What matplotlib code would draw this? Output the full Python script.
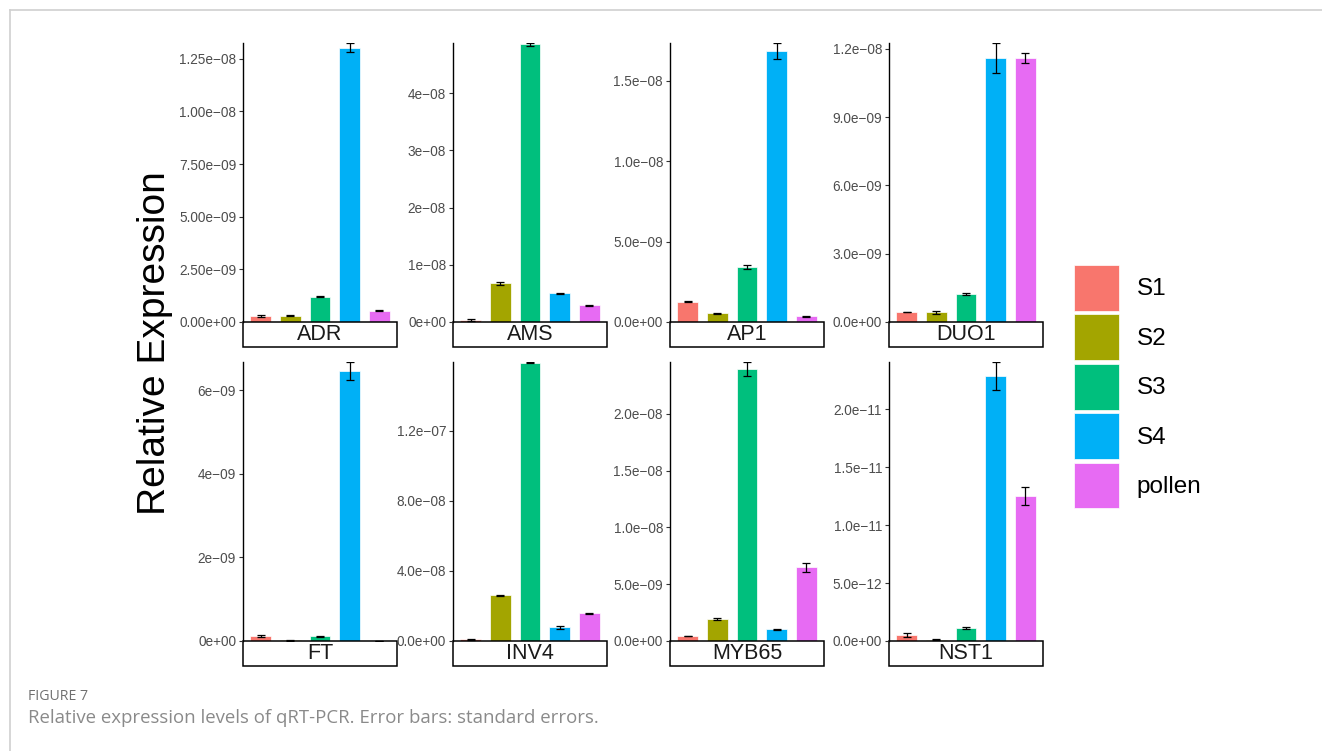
import matplotlib

matplotlib.use("Agg")

import matplotlib.pyplot as plt
from matplotlib.lines import Line2D
from matplotlib.patches import Patch, Rectangle

stages = ["S1", "S2", "S3", "S4", "pollen"]
stage_colors = ["#F8766D", "#A3A500", "#00BF7D", "#00B0F6", "#E76BF3"]
genes = ["ADR", "AMS", "AP1", "DUO1", "FT", "INV4", "MYB65", "NST1"]

adr_mean = [3.0e-10, 3.0e-10, 1.2e-9, 1.303e-8, 5.3e-10]
adr_se = [4e-11, 3.5e-11, 3e-11, 2.2e-10, 3e-11]
ams_mean = [3.5e-10, 6.8e-9, 4.85e-8, 5.0e-9, 2.9e-9]
ams_se = [1e-10, 2.5e-10, 2.5e-10, 1e-10, 1.5e-10]
ap1_mean = [1.27e-9, 5.4e-10, 3.42e-9, 1.685e-8, 3.7e-10]
ap1_se = [4e-11, 3e-11, 1.2e-10, 5e-10, 3e-11]
duo1_mean = [4.4e-10, 4.3e-10, 1.23e-9, 1.16e-8, 1.16e-8]
duo1_se = [2e-11, 6e-11, 4e-11, 6.6e-10, 2e-10]
ft_mean = [1.2e-10, 1.5e-11, 1.1e-10, 6.46e-9, 5e-12]
ft_se = [1.5e-11, 5e-12, 1.5e-11, 2.2e-10, 3e-12]
inv4_mean = [1.0e-9, 2.61e-8, 1.589e-7, 7.8e-9, 1.58e-8]
inv4_se = [2.5e-10, 2.5e-10, 4e-10, 9e-10, 4e-10]
myb65_mean = [4.4e-10, 1.94e-9, 2.394e-8, 1.03e-9, 6.48e-9]
myb65_se = [4e-11, 8e-11, 6.3e-10, 5e-11, 4.1e-10]
nst1_mean = [5.2e-13, 1.2e-13, 1.12e-12, 2.288e-11, 1.251e-11]
nst1_se = [1.7e-13, 3e-14, 5e-14, 1.2e-12, 7.9e-13]

adr_ticks = [0, 2.5e-9, 5e-9, 7.5e-9, 1e-8, 1.25e-8]
adr_labels = ["0.00e+00", "2.50e\u221209", "5.00e\u221209", "7.50e\u221209", "1.00e\u221208", "1.25e\u221208"]
ams_ticks = [0, 1e-8, 2e-8, 3e-8, 4e-8]
ams_labels = ["0e+00", "1e\u221208", "2e\u221208", "3e\u221208", "4e\u221208"]
ap1_ticks = [0, 5e-9, 1e-8, 1.5e-8]
ap1_labels = ["0.0e+00", "5.0e\u221209", "1.0e\u221208", "1.5e\u221208"]
duo1_ticks = [0, 3e-9, 6e-9, 9e-9, 1.2e-8]
duo1_labels = ["0.0e+00", "3.0e\u221209", "6.0e\u221209", "9.0e\u221209", "1.2e\u221208"]
ft_ticks = [0, 2e-9, 4e-9, 6e-9]
ft_labels = ["0e+00", "2e\u221209", "4e\u221209", "6e\u221209"]
inv4_ticks = [0, 4e-8, 8e-8, 1.2e-7]
inv4_labels = ["0.0e+00", "4.0e\u221208", "8.0e\u221208", "1.2e\u221207"]
myb65_ticks = [0, 5e-9, 1e-8, 1.5e-8, 2e-8]
myb65_labels = ["0.0e+00", "5.0e\u221209", "1.0e\u221208", "1.5e\u221208", "2.0e\u221208"]
nst1_ticks = [0, 5e-12, 1e-11, 1.5e-11, 2e-11]
nst1_labels = ["0.0e+00", "5.0e\u221212", "1.0e\u221211", "1.5e\u221211", "2.0e\u221211"]

panel_means = [adr_mean, ams_mean, ap1_mean, duo1_mean, ft_mean, inv4_mean, myb65_mean, nst1_mean]
panel_ses = [adr_se, ams_se, ap1_se, duo1_se, ft_se, inv4_se, myb65_se, nst1_se]
panel_ticks = [adr_ticks, ams_ticks, ap1_ticks, duo1_ticks, ft_ticks, inv4_ticks, myb65_ticks, nst1_ticks]
panel_labels = [adr_labels, ams_labels, ap1_labels, duo1_labels,
                ft_labels, inv4_labels, myb65_labels, nst1_labels]

plt.rcParams["font.family"] = ["Liberation Sans", "DejaVu Sans"]

W, H = 1322, 751
fig = plt.figure(figsize=(W / 100, H / 100), dpi=100)

# pixel layout of the facet grid
col_left = [243, 453, 670, 889]
row_top = [43, 362]
panel_w, panel_h = 154, 279
strip_h = 25

xpos = list(range(len(stages)))
for i, gene in enumerate(genes):
    r, c = divmod(i, 4)
    left = col_left[c] / W
    bottom = 1 - (row_top[r] + panel_h) / H
    ax = fig.add_axes([left, bottom, panel_w / W, panel_h / H])

    means, ses = panel_means[i], panel_ses[i]
    ax.bar(xpos, means, width=0.7, color=stage_colors, edgecolor="white", linewidth=0.5)
    ax.errorbar(xpos, means, yerr=ses, fmt="none", ecolor="black",
                elinewidth=0.9, capsize=2.6, capthick=0.9)

    ax.set_xlim(-0.6, len(stages) - 0.4)
    ax.set_ylim(0, max(m + s for m, s in zip(means, ses)))
    ax.set_yticks(panel_ticks[i])
    ax.set_yticklabels(panel_labels[i])
    ax.set_xticks([])
    for side in ["top", "right", "bottom"]:
        ax.spines[side].set_visible(False)
    ax.spines["left"].set_linewidth(1.0)
    ax.tick_params(axis="y", length=3, width=0.8, color="#333333",
                   labelsize=9.8, labelcolor="#4D4D4D", pad=2)

    # strip at the bottom of each panel
    sh = strip_h / panel_h
    ax.add_patch(Rectangle((0, -sh), 1, sh, transform=ax.transAxes, facecolor="white",
                           edgecolor="black", linewidth=1.1, clip_on=False))
    ax.text(0.5, -sh / 2, gene, transform=ax.transAxes, ha="center", va="center",
            fontsize=15.5, color="#1A1A1A")

fig.text(155 / W, 1 - 343 / H, "Relative Expression", rotation=90,
         ha="center", va="center", fontsize=28, color="black")

handles = [Patch(facecolor=col, edgecolor="white", linewidth=0.5) for col in stage_colors]
fig.legend(handles, stages, loc="upper left", bbox_to_anchor=(1074 / W, 1 - 265 / H),
           frameon=False, fontsize=17.5, handlelength=1.85, handleheight=2.52,
           labelspacing=0.15, handletextpad=0.74, borderpad=0, borderaxespad=0)

# page frame and caption
fig.add_artist(Line2D([9.5 / W, 1], [1 - 9.5 / H, 1 - 9.5 / H], transform=fig.transFigure,
                      color="#D0D0D0", linewidth=1.2))
fig.add_artist(Line2D([9.5 / W, 9.5 / W], [0, 1 - 9.5 / H], transform=fig.transFigure,
                      color="#D0D0D0", linewidth=1.2))
fig.text(28 / W, 1 - 697 / H, "FIGURE 7", ha="left", va="center", fontsize=10.2,
         color="#707070", family=["Open Sans", "DejaVu Sans"])
fig.text(28 / W, 1 - 718 / H, "Relative expression levels of qRT-PCR. Error bars: standard errors.",
         ha="left", va="center", fontsize=13.4, color="#8A8A8A", family=["Open Sans", "DejaVu Sans"])

fig.savefig("out.png", dpi=100)
plt.close(fig)
